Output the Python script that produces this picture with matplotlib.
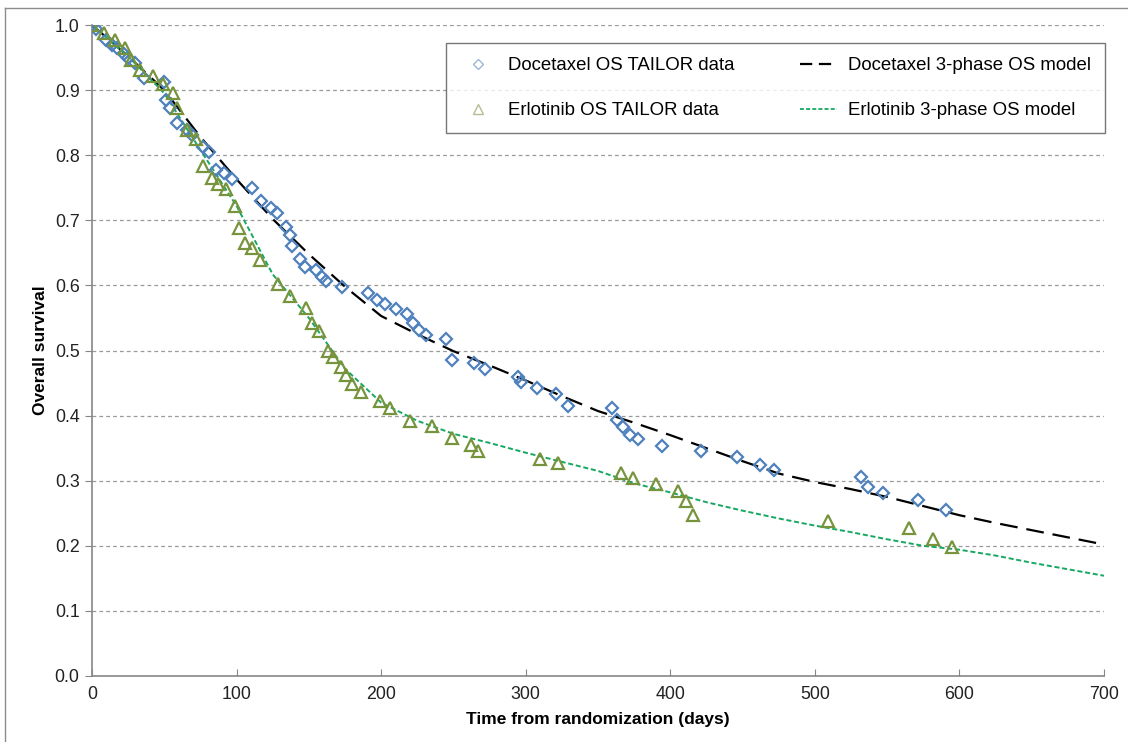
import matplotlib
matplotlib.use("Agg")
import matplotlib.pyplot as plt
from matplotlib.lines import Line2D

plt.rcParams['font.family'] = ['Liberation Sans', 'DejaVu Sans']

# Kaplan-Meier overall survival, TAILOR trial
doc_days = [0, 3, 10, 14, 17, 22, 25, 30, 36, 50, 51, 54, 59, 66, 69, 77, 81, 86, 91, 97,
            111, 117, 124, 128, 134, 137, 138, 144, 147, 155, 159, 162, 173, 191, 197, 203,
            210, 218, 222, 226, 231, 245, 249, 264, 272, 295, 297, 308, 321, 329, 360, 363,
            367, 372, 378, 394, 421, 446, 462, 472, 532, 537, 547, 571, 591]
doc_os = [1.000, 0.994, 0.977, 0.970, 0.964, 0.956, 0.949, 0.941, 0.919, 0.912, 0.885, 0.872,
          0.849, 0.839, 0.831, 0.813, 0.805, 0.778, 0.772, 0.763, 0.749, 0.730, 0.719, 0.711,
          0.690, 0.677, 0.661, 0.641, 0.629, 0.624, 0.613, 0.606, 0.598, 0.588, 0.578, 0.571,
          0.563, 0.556, 0.542, 0.531, 0.524, 0.518, 0.486, 0.481, 0.471, 0.460, 0.451, 0.442,
          0.433, 0.415, 0.411, 0.393, 0.382, 0.370, 0.364, 0.353, 0.345, 0.336, 0.324, 0.316,
          0.305, 0.291, 0.281, 0.270, 0.255]

erl_days = [0, 8, 16, 23, 27, 33, 42, 49, 56, 59, 66, 72, 77, 83, 87, 93, 99, 102, 106, 111,
            116, 129, 137, 148, 152, 157, 163, 167, 172, 176, 180, 186, 199, 206, 220, 235,
            249, 262, 267, 310, 322, 366, 374, 390, 405, 411, 416, 509, 565, 582, 595]
erl_os = [1.000, 0.987, 0.977, 0.964, 0.946, 0.931, 0.921, 0.910, 0.895, 0.873, 0.839, 0.825,
          0.784, 0.765, 0.755, 0.748, 0.722, 0.688, 0.665, 0.657, 0.639, 0.602, 0.583, 0.565,
          0.543, 0.530, 0.500, 0.490, 0.475, 0.462, 0.449, 0.437, 0.423, 0.412, 0.392, 0.384,
          0.366, 0.355, 0.346, 0.334, 0.327, 0.312, 0.304, 0.295, 0.284, 0.269, 0.247, 0.238,
          0.227, 0.210, 0.198]

# 3-phase parametric OS model curves
model_days = [0, 25, 50, 75, 100, 125, 150, 175, 200, 225, 250, 275, 300, 325, 350, 375,
              400, 425, 450, 475, 500, 525, 550, 575, 600, 625, 650, 675, 700]
doc_model = [1.000, 0.952, 0.900, 0.828, 0.763, 0.702, 0.648, 0.598, 0.553, 0.525, 0.499,
             0.477, 0.454, 0.430, 0.407, 0.389, 0.370, 0.350, 0.330, 0.311, 0.298, 0.287,
             0.275, 0.261, 0.247, 0.235, 0.224, 0.213, 0.202]
erl_model = [1.000, 0.952, 0.895, 0.808, 0.722, 0.617, 0.550, 0.472, 0.420, 0.392, 0.372,
             0.358, 0.343, 0.329, 0.315, 0.296, 0.282, 0.267, 0.254, 0.242, 0.231, 0.221,
             0.210, 0.200, 0.194, 0.185, 0.174, 0.164, 0.154]

x_ticks = [0, 100, 200, 300, 400, 500, 600, 700]
y_ticks = [0.0, 0.1, 0.2, 0.3, 0.4, 0.5, 0.6, 0.7, 0.8, 0.9, 1.0]

BLUE = '#4F81BD'
OLIVE = '#77933C'
GREEN = '#16A862'
AXIS_GREY = '#868686'
FS = 12.8
LEG_FS = 13.4

fig = plt.figure(figsize=(11.28, 7.42), dpi=100)
ax = fig.add_axes([92 / 1128, 66 / 742, 1012 / 1128, 651 / 742])

ax.plot(model_days, doc_model, color='black', lw=1.6, dashes=(8, 4), zorder=2)
ax.plot(model_days, erl_model, color=GREEN, lw=1.4, dashes=(2.6, 1.4), zorder=2)

ax.plot(doc_days, doc_os, ls='none', marker='D', ms=6.6, mfc='none', mec=BLUE, mew=1.6,
        zorder=3)
ax.plot(erl_days, erl_os, ls='none', marker='^', ms=8.2, mfc='none', mec=OLIVE, mew=1.6,
        zorder=3)

ax.set_xlim(0, 700)
ax.set_ylim(0, 1.0)
ax.set_xticks(x_ticks)
ax.set_yticks(y_ticks)
ax.set_yticklabels([f'{v:.1f}' for v in y_ticks])
ax.tick_params(axis='y', direction='out', length=5, color=AXIS_GREY, labelsize=FS, pad=4,
               labelcolor='#222222')
ax.tick_params(axis='x', direction='in', length=5, color=AXIS_GREY, labelsize=FS, pad=7,
               labelcolor='#222222')

for side in ('top', 'right'):
    ax.spines[side].set_visible(False)
for side in ('left', 'bottom'):
    ax.spines[side].set_color(AXIS_GREY)
    ax.spines[side].set_linewidth(1.2)

for v in y_ticks[1:]:
    ax.axhline(v, color='#9A9A9A', lw=0.9, dashes=(3, 2.5), zorder=1)

ax.set_xlabel('Time from randomization (days)', fontsize=FS - 0.3, fontweight='bold',
              labelpad=7)
ax.set_ylabel('Overall survival', fontsize=FS - 0.3, fontweight='bold', labelpad=5)

handles = [
    Line2D([], [], ls='none', marker='D', ms=5.5, mfc='none', mec='#9DB6D8', mew=1.0),
    Line2D([], [], ls='none', marker='^', ms=6.5, mfc='none', mec='#B4BE92', mew=1.0),
    Line2D([], [], color='black', lw=1.6, dashes=(5.5, 3)),
    Line2D([], [], color=GREEN, lw=1.3, dashes=(2.2, 1.2)),
]
labels = ['Docetaxel OS TAILOR data', 'Erlotinib OS TAILOR data',
          'Docetaxel 3-phase OS model', 'Erlotinib 3-phase OS model']
leg = ax.legend(handles, labels, ncol=2, loc='upper right',
                bbox_to_anchor=(1.001, 0.972), fontsize=LEG_FS, frameon=True,
                fancybox=False, edgecolor='#555555', borderpad=0.75, labelspacing=1.5,
                handlelength=2.0, handletextpad=0.6, columnspacing=3.5,
                borderaxespad=0)
leg.get_frame().set_linewidth(1.0)

# chart-area border
fig.add_artist(Line2D([5 / 1128, 5 / 1128], [0, 1 - 8 / 742], color='#8C8C8C', lw=1.0))
fig.add_artist(Line2D([5 / 1128, 1], [1 - 8 / 742, 1 - 8 / 742], color='#8C8C8C', lw=1.0))

fig.savefig('out.png', dpi=100)
